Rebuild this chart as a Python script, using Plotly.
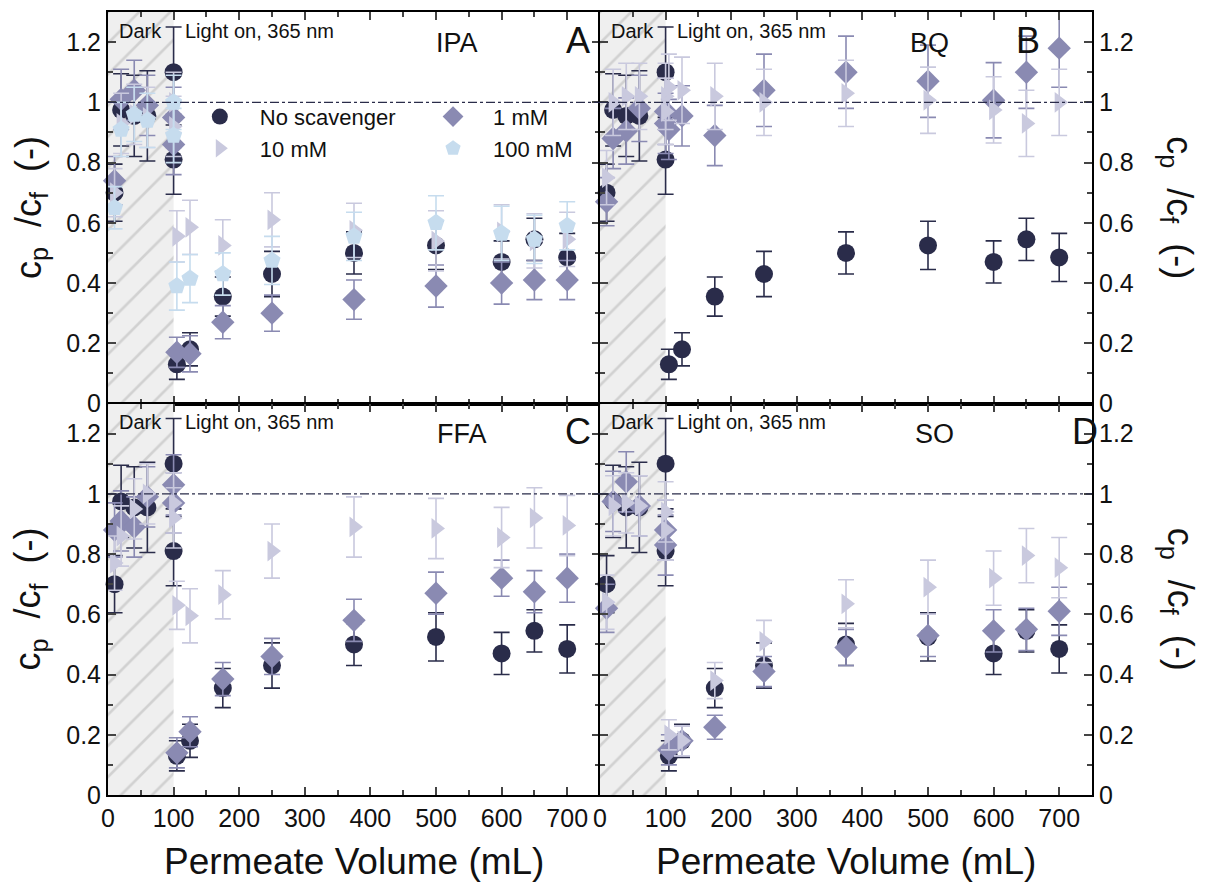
import plotly.graph_objects as go
from plotly.subplots import make_subplots

# ---------------- data ----------------
VOLUME = [10, 20, 40, 60, 100, 100, 105, 125, 175, 250, 375, 500, 600, 650, 700]
DARK_END = 100
X_MAX = 750
Y_MAX = 1.3

NO_SCAV = [0.70, 0.975, 0.955, 0.955, 1.10, 0.81, 0.13, 0.18, 0.355, 0.43, 0.50, 0.525, 0.47, 0.545, 0.485]
NO_SCAV_ERR = [0.095, 0.12, 0.135, 0.15, 0.15, 0.115, 0.05, 0.055, 0.065, 0.075, 0.07, 0.08, 0.07, 0.07, 0.08]

IPA_1MM = [0.74, 1.01, 1.04, 0.99, 0.95, 0.86, 0.17, 0.165, 0.27, 0.30, 0.345, 0.39, 0.40, 0.41, 0.41]
IPA_1MM_ERR = [0.08, 0.10, 0.10, 0.10, 0.10, 0.10, 0.05, 0.06, 0.055, 0.06, 0.065, 0.07, 0.07, 0.065, 0.065]
IPA_10MM = [0.70, 0.93, 0.96, 0.95, 1.00, 0.92, 0.555, 0.585, 0.525, 0.61, 0.575, 0.54, 0.57, 0.54, 0.545]
IPA_10MM_ERR = [0.08, 0.10, 0.10, 0.10, 0.10, 0.10, 0.085, 0.09, 0.085, 0.09, 0.09, 0.10, 0.09, 0.09, 0.09]
IPA_100MM = [0.65, 0.91, 0.96, 0.94, 1.00, 0.89, 0.39, 0.415, 0.43, 0.475, 0.555, 0.60, 0.565, 0.545, 0.59]
IPA_100MM_ERR = [0.07, 0.09, 0.09, 0.09, 0.09, 0.09, 0.08, 0.08, 0.07, 0.08, 0.08, 0.09, 0.09, 0.08, 0.08]

BQ_1MM = [0.67, 0.88, 0.905, 0.98, 0.97, 0.93, 0.91, 0.955, 0.89, 1.04, 1.10, 1.07, 1.007, 1.10, 1.18]
BQ_1MM_ERR = [0.08, 0.10, 0.11, 0.11, 0.11, 0.10, 0.10, 0.10, 0.10, 0.12, 0.12, 0.12, 0.125, 0.12, 0.13]
BQ_10MM = [0.75, 1.00, 1.02, 1.02, 1.02, 0.97, 1.05, 1.04, 1.02, 1.00, 1.03, 1.007, 0.975, 0.93, 1.00]
BQ_10MM_ERR = [0.09, 0.11, 0.11, 0.11, 0.11, 0.11, 0.11, 0.11, 0.11, 0.11, 0.11, 0.11, 0.11, 0.11, 0.11]

FFA_1MM = [0.88, 0.91, 0.89, 0.99, 1.03, 0.97, 0.14, 0.21, 0.385, 0.46, 0.58, 0.67, 0.72, 0.675, 0.72]
FFA_1MM_ERR = [0.09, 0.10, 0.10, 0.10, 0.10, 0.10, 0.05, 0.05, 0.055, 0.06, 0.07, 0.07, 0.06, 0.07, 0.08]
FFA_10MM = [0.77, 0.86, 0.95, 1.00, 0.97, 0.92, 0.63, 0.595, 0.665, 0.81, 0.89, 0.885, 0.855, 0.92, 0.895]
FFA_10MM_ERR = [0.09, 0.10, 0.10, 0.10, 0.10, 0.10, 0.08, 0.09, 0.08, 0.09, 0.10, 0.10, 0.10, 0.10, 0.10]

SO_1MM = [0.62, 0.975, 1.04, 0.96, 0.88, 0.83, 0.15, 0.18, 0.225, 0.41, 0.49, 0.53, 0.545, 0.55, 0.61]
SO_1MM_ERR = [0.08, 0.10, 0.10, 0.10, 0.10, 0.10, 0.05, 0.05, 0.04, 0.05, 0.06, 0.07, 0.07, 0.07, 0.08]
SO_10MM = [0.64, 0.96, 0.97, 0.96, 0.94, 0.88, 0.20, 0.18, 0.38, 0.51, 0.635, 0.69, 0.72, 0.795, 0.755]
SO_10MM_ERR = [0.09, 0.10, 0.10, 0.10, 0.10, 0.10, 0.05, 0.05, 0.06, 0.07, 0.08, 0.09, 0.09, 0.09, 0.10]

X_TICKS = [0, 100, 200, 300, 400, 500, 600, 700]
Y_TICKS = [0, 0.2, 0.4, 0.6, 0.8, 1.0, 1.2]
Y_TICK_TEXT = ["0", "0.2", "0.4", "0.6", "0.8", "1", "1.2"]

PANELS = [
    ("IPA", "A", 1, 1, [("1 mM", IPA_1MM, IPA_1MM_ERR), ("10 mM", IPA_10MM, IPA_10MM_ERR),
                        ("100 mM", IPA_100MM, IPA_100MM_ERR)]),
    ("BQ", "B", 1, 2, [("1 mM", BQ_1MM, BQ_1MM_ERR), ("10 mM", BQ_10MM, BQ_10MM_ERR)]),
    ("FFA", "C", 2, 1, [("1 mM", FFA_1MM, FFA_1MM_ERR), ("10 mM", FFA_10MM, FFA_10MM_ERR)]),
    ("SO", "D", 2, 2, [("1 mM", SO_1MM, SO_1MM_ERR), ("10 mM", SO_10MM, SO_10MM_ERR)]),
]

# ---------------- style ----------------
FONT = "Liberation Sans, Arial, sans-serif"
STYLE = {
    "No scavenger": dict(color="#2a2c4a", symbol="circle", legend="legend"),
    "1 mM": dict(color="#8a8ab2", symbol="diamond", legend="legend2"),
    "10 mM": dict(color="#c9c9de", symbol="triangle-right", legend="legend"),
    "100 mM": dict(color="#c6dcee", symbol="pentagon", legend="legend2"),
}
MSIZE = 18
LABEL_POS = {"A": (0.71, 0.955), "B": (0.87, 0.868), "C": (0.955, 0.88), "D": (0.985, 0.88)}
NAME_POS = {"A": 0.71, "B": 0.67, "C": 0.72, "D": 0.68}

fig = make_subplots(rows=2, cols=2, horizontal_spacing=0, vertical_spacing=0)


def add_series(name, y, err, row, col, show):
    st = STYLE[name]
    fig.add_trace(go.Scatter(
        x=VOLUME, y=y, mode="markers", name=name,
        marker=dict(color=st["color"], symbol=st["symbol"], size=MSIZE, line=dict(width=0)),
        error_y=dict(type="data", array=err, color=st["color"], thickness=1.6, width=8),
        showlegend=show, legend=st["legend"], cliponaxis=False,
    ), row=row, col=col)


for idx, (label, letter, row, col, series) in enumerate(PANELS):
    # dark (hatched) region
    fig.add_trace(go.Scatter(
        x=[0, DARK_END, DARK_END, 0, 0], y=[0, 0, Y_MAX, Y_MAX, 0],
        mode="lines", fill="toself", fillcolor="#eeeeee",
        fillpattern=dict(shape="/", fgcolor="#b4b4b4", bgcolor="#efefef", size=22, solidity=0.12),
        line=dict(width=0), hoverinfo="skip", showlegend=False,
    ), row=row, col=col)
    show = (idx == 0)
    add_series("No scavenger", NO_SCAV, NO_SCAV_ERR, row, col, show)
    for name, y, err in series:
        add_series(name, y, err, row, col, show)

    n = idx + 1
    xref = "x" if n == 1 else f"x{n}"
    yref = "y" if n == 1 else f"y{n}"
    # reference line c/c0 = 1
    fig.add_shape(type="line", xref=f"{xref} domain", yref=yref, x0=0, x1=1, y0=1, y1=1,
                  line=dict(color="#2a2c4a", width=1.3, dash="dashdot"), layer="above")
    fig.add_annotation(xref=f"{xref} domain", yref=f"{yref} domain", x=0.018, y=0.985,
                       text="Dark", showarrow=False, xanchor="left", yanchor="top",
                       font=dict(family=FONT, size=20, color="#111"))
    fig.add_annotation(xref=f"{xref} domain", yref=f"{yref} domain", x=0.152, y=0.985,
                       text="Light on, 365 nm", showarrow=False, xanchor="left", yanchor="top",
                       font=dict(family=FONT, size=20, color="#111"))
    fig.add_annotation(xref=f"{xref} domain", yref=f"{yref} domain", x=NAME_POS[letter],
                       y=0.965, text=label, showarrow=False, xanchor="center", yanchor="top",
                       font=dict(family=FONT, size=27, color="#111"))
    fig.add_annotation(xref=f"{xref} domain", yref=f"{yref} domain",
                       x=0.955 if letter in ("A", "C") else (0.87 if letter == "B" else 0.985),
                       y=0.985, text=letter, showarrow=False, xanchor="center", yanchor="top",
                       font=dict(family=FONT, size=36, color="#111"))

    fig.update_xaxes(range=[0, X_MAX], tickvals=X_TICKS, ticks="inside", ticklen=8, tickwidth=2,
                     minor=dict(dtick=50, tick0=0, ticks="inside", ticklen=5, tickwidth=1.5),
                     showline=True, linewidth=2, linecolor="black", mirror="allticks",
                     showgrid=False, zeroline=False, showticklabels=(row == 2),
                     tickfont=dict(family=FONT, size=25, color="#111"), row=row, col=col)
    fig.update_yaxes(range=[0, Y_MAX], tickvals=Y_TICKS, ticktext=Y_TICK_TEXT, ticks="inside",
                     ticklen=8, tickwidth=2,
                     minor=dict(dtick=0.1, tick0=0, ticks="inside", ticklen=5, tickwidth=1.5),
                     showline=True, linewidth=2, linecolor="black", mirror="allticks",
                     showgrid=False, zeroline=False, side="left" if col == 1 else "right",
                     tickfont=dict(family=FONT, size=25, color="#111"), row=row, col=col)

    # axis titles
    ytitle = "c<sub>p</sub>\u00a0\u00a0/c<sub>f</sub>\u00a0\u00a0(-)"
    if col == 1:
        fig.add_annotation(xref="paper", yref=f"{yref} domain", x=-0.079, y=0.5, text=ytitle,
                           textangle=-90, showarrow=False, xanchor="center", yanchor="middle",
                           font=dict(family=FONT, size=36, color="#111"))
    else:
        fig.add_annotation(xref="paper", yref=f"{yref} domain", x=1.087, y=0.5, text=ytitle,
                           textangle=90, showarrow=False, xanchor="center", yanchor="middle",
                           font=dict(family=FONT, size=36, color="#111"))
    if row == 2:
        fig.add_annotation(xref=f"{xref} domain", yref="paper", x=0.5, y=-0.085,
                           text="Permeate Volume (mL)", showarrow=False,
                           xanchor="center", yanchor="middle",
                           font=dict(family=FONT, size=37, color="#111"))

fig.update_layout(
    width=1206, height=888,
    margin=dict(l=108, r=114, t=10, b=93),
    paper_bgcolor="white", plot_bgcolor="white",
    font=dict(family=FONT, color="#111"),
    legend=dict(x=0.073, y=0.893, xanchor="left", yanchor="top", bgcolor="rgba(0,0,0,0)",
                font=dict(family=FONT, size=22, color="#111"), tracegroupgap=0,
                itemsizing="trace", itemwidth=70),
    legend2=dict(x=0.310, y=0.893, xanchor="left", yanchor="top", bgcolor="rgba(0,0,0,0)",
                 font=dict(family=FONT, size=22, color="#111"), tracegroupgap=0,
                 itemsizing="trace", itemwidth=70),
)

fig.write_html("out.html")
